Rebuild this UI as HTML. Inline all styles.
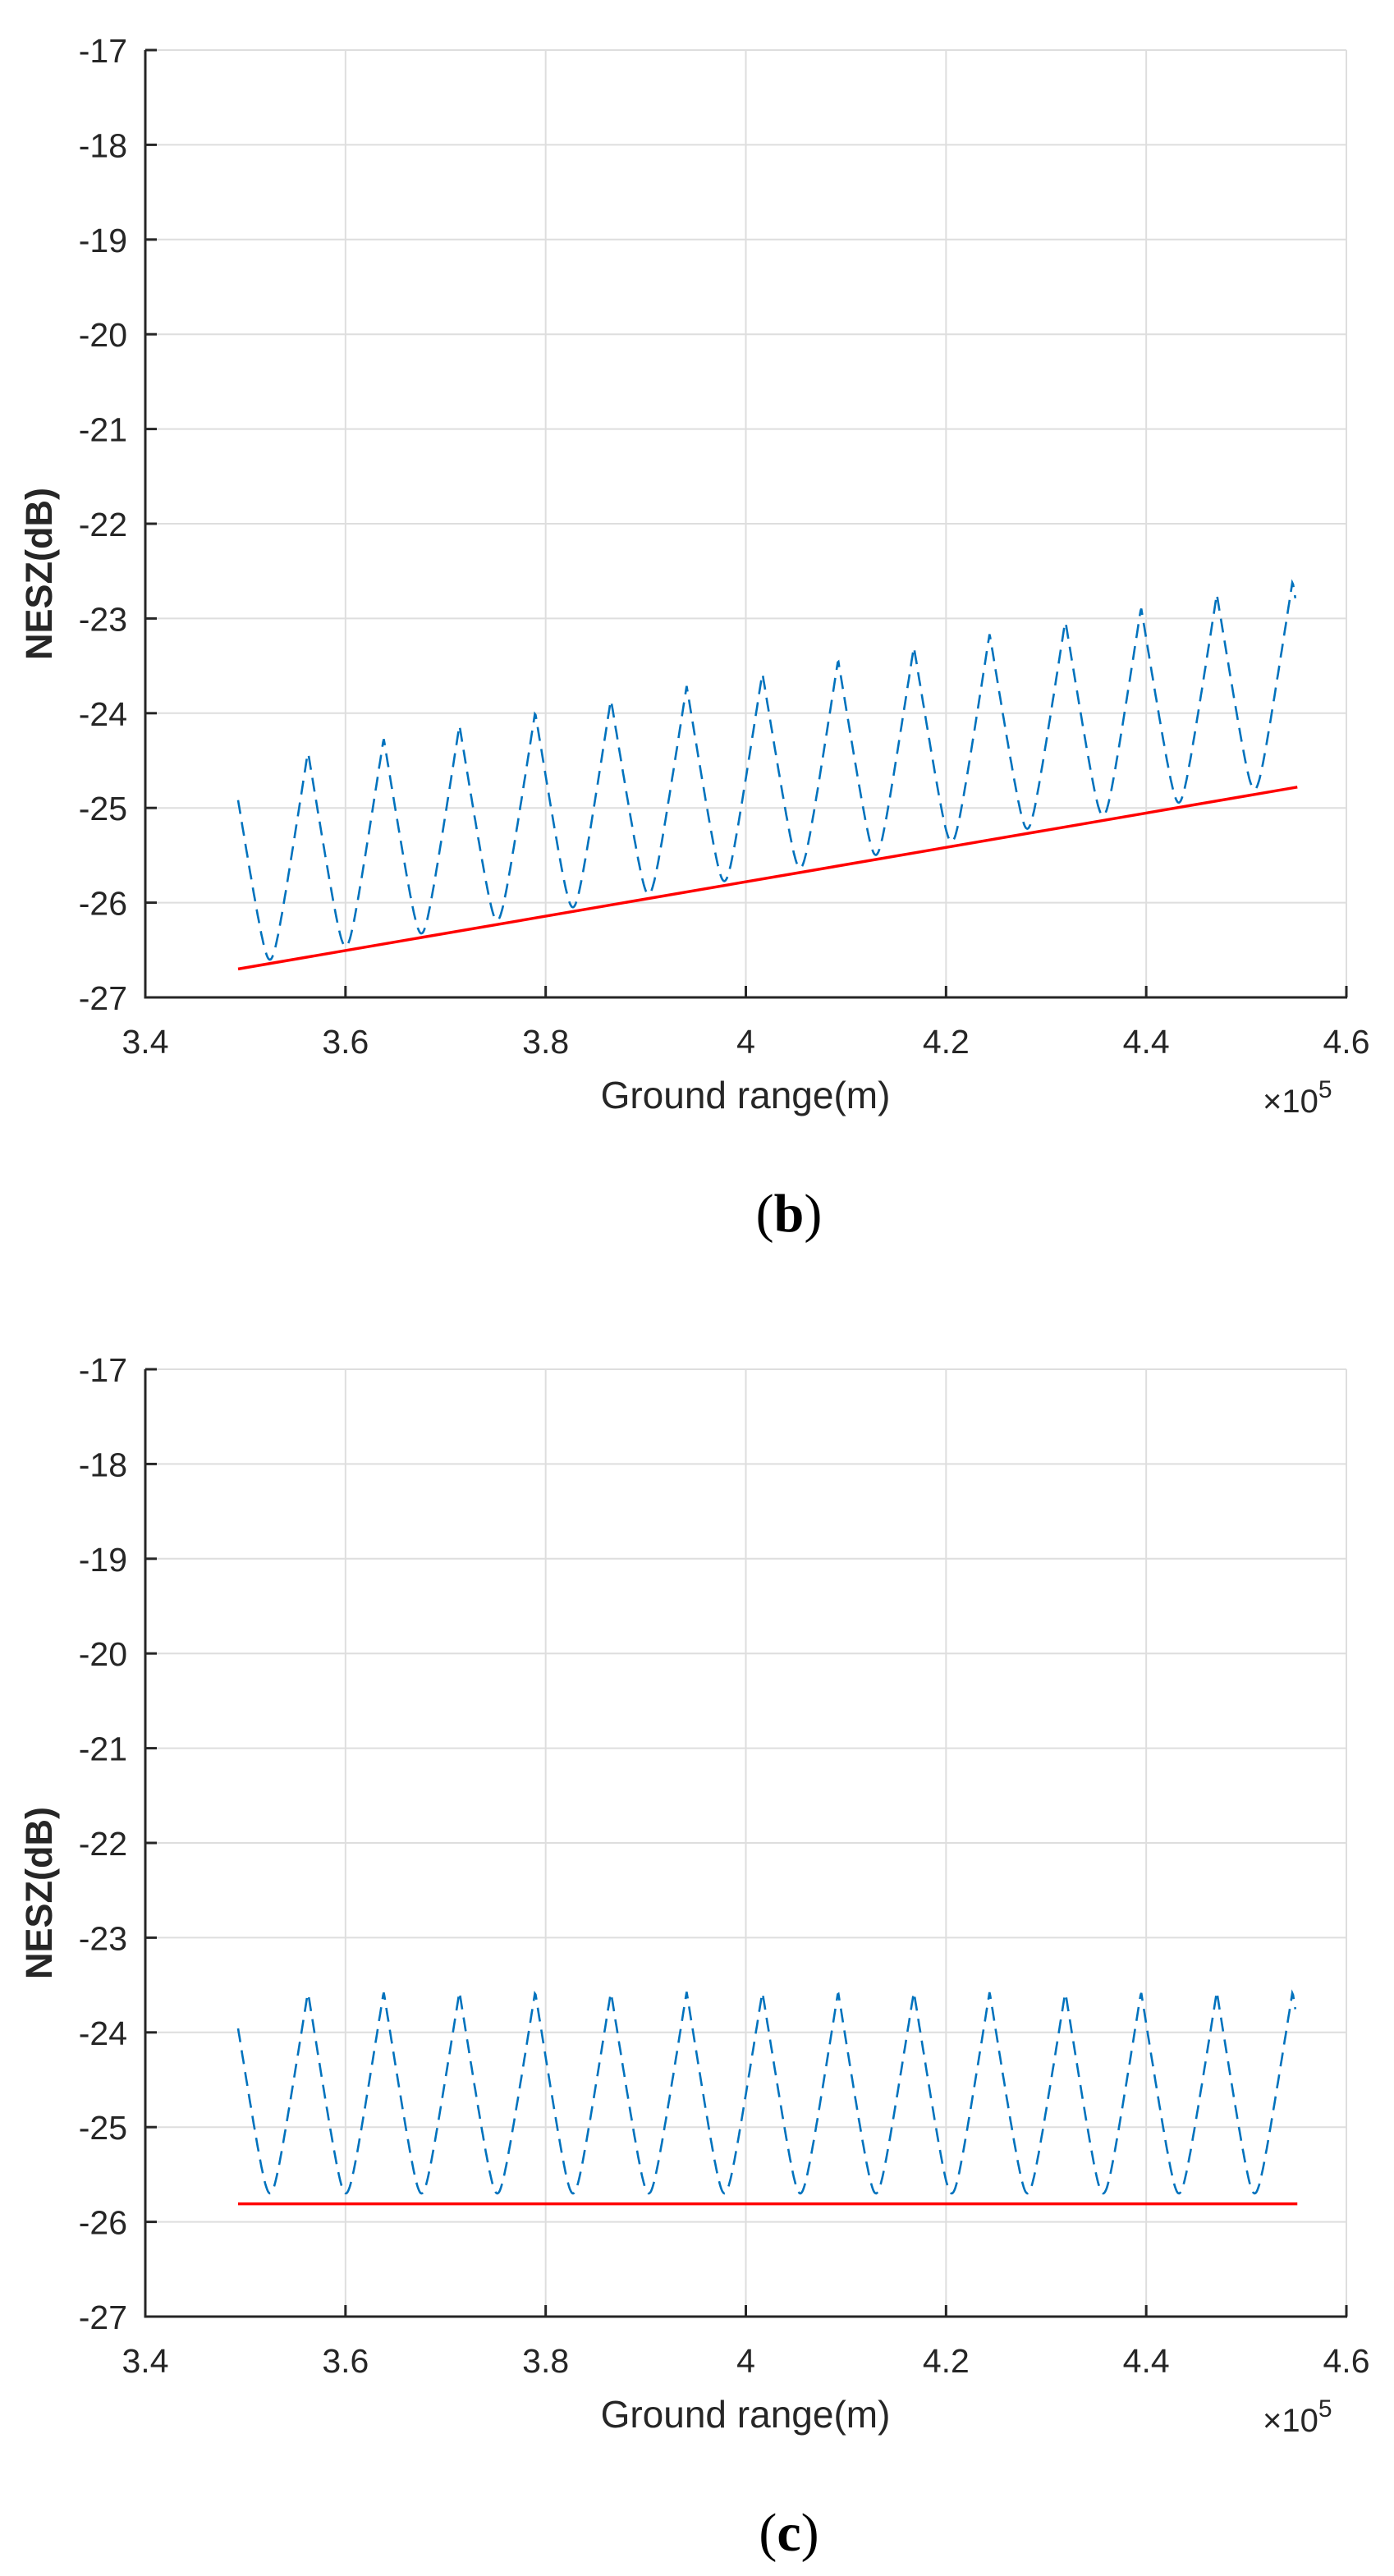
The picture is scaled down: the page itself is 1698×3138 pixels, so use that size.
<!DOCTYPE html>
<html><head><meta charset="utf-8">
<style>
html,body{margin:0;padding:0;background:#fff;}
svg{display:block;}
text{font-family:"Liberation Sans",Arial,sans-serif;fill:#262626;}
</style></head>
<body>
<svg id="s" width="1698" height="3138" viewBox="0 0 1698 3138" xmlns="http://www.w3.org/2000/svg">
<rect width="1698" height="3138" fill="#fff"/>
<g id="g"></g>
</svg>
<script>
(function(){
var NS="http://www.w3.org/2000/svg";
var g=document.getElementById('g');
function el(n,a,t){var e=document.createElementNS(NS,n);for(var k in a)e.setAttribute(k,a[k]);if(t!==undefined)e.textContent=t;g.appendChild(e);return e;}
var X0=177,X1=1640;
function X(v){return X0+(v-3.4)/1.2*(X1-X0);}
function plot(yt,yb,mode,lab){
  function Y(v){return yt+(-17-v)/10*(yb-yt);}
  // grid
  for(var i=0;i<=6;i++){var xv=3.4+0.2*i,x=X(xv);
    el('line',{x1:x,y1:yt,x2:x,y2:yb,stroke:'#dedede','stroke-width':2});}
  for(var j=-17;j>=-27;j--){var y=Y(j);
    el('line',{x1:X0,y1:y,x2:X1,y2:y,stroke:'#dedede','stroke-width':2});}
  // data
  var P=0.07567,pk0=3.5625,A=2.13,c=0.18,norm=Math.sqrt(1+c*c)-c;
  var xs=3.4927,xe=4.549,d='';
  for(var k=0;k<=1400;k++){
    var x=xs+(xe-xs)*k/1400;
    var ph=((x-pk0)/P)%1; if(ph<0)ph+=1; var t=ph-0.5; var u=2*t;
    var f=(Math.sqrt(u*u+c*c)-c)/norm;
    var base=mode==0?(-26.70+(x-3.4927)*1.826+0.04):-25.70;
    var v=base+A*f;
    d+=(k?'L':'M')+X(x).toFixed(1)+' '+Y(v).toFixed(1);
  }
  el('path',{d:d,fill:'none',stroke:'#0072BD','stroke-width':2.6,'stroke-dasharray':'17 10'});
  if(mode==0) el('line',{x1:X(3.4927),y1:Y(-26.70),x2:X(4.551),y2:Y(-24.78),stroke:'#ff0000','stroke-width':3.5});
  else el('line',{x1:X(3.4927),y1:Y(-25.81),x2:X(4.551),y2:Y(-25.81),stroke:'#ff0000','stroke-width':3.5});
  // axes
  el('line',{x1:X0,y1:yt,x2:X0,y2:yb+1.5,stroke:'#262626','stroke-width':3});
  el('line',{x1:X0-1.5,y1:yb,x2:X1+1,y2:yb,stroke:'#262626','stroke-width':3});
  for(var j=-17;j>=-27;j--){var y=Y(j);
    el('line',{x1:X0,y1:y,x2:X0+14,y2:y,stroke:'#262626','stroke-width':3});
    el('text',{x:155,y:y+15,'font-size':41,'text-anchor':'end'},String(j));}
  var tl=['3.4','3.6','3.8','4','4.2','4.4','4.6'];
  for(var i=0;i<=6;i++){var x=X(3.4+0.2*i);
    el('line',{x1:x,y1:yb,x2:x,y2:yb-14,stroke:'#262626','stroke-width':3});
    el('text',{x:x,y:yb+68,'font-size':41,'text-anchor':'middle'},tl[i]);}
  el('text',{x:908,y:yb+135,'font-size':46,'text-anchor':'middle'},'Ground range(m)');
  var t=el('text',{x:1538,y:yb+140,'font-size':40},'');
  var s1=document.createElementNS(NS,'tspan');s1.textContent='\u00d710';t.appendChild(s1);
  var s2=document.createElementNS(NS,'tspan');s2.setAttribute('dy','-18');s2.setAttribute('font-size','30');s2.textContent='5';t.appendChild(s2);
  var ym=(yt+yb)/2+61;
  el('text',{x:0,y:0,'font-size':45,'font-weight':'bold','text-anchor':'middle',transform:'translate(63,'+ym+') rotate(-90)'},'NESZ(dB)');
  var L=el('text',{x:961,y:yb+285,'font-size':66,'text-anchor':'middle',style:'font-family:"Liberation Serif",serif;fill:#000'},'');
  var a=document.createElementNS(NS,'tspan');a.textContent='(';L.appendChild(a);
  var b=document.createElementNS(NS,'tspan');b.setAttribute('font-weight','bold');b.textContent=lab;L.appendChild(b);
  var cc=document.createElementNS(NS,'tspan');cc.textContent=')';L.appendChild(cc);
}
plot(61,1215,0,'b');
plot(1668,2822,1,'c');
})();
</script>
</body></html>
